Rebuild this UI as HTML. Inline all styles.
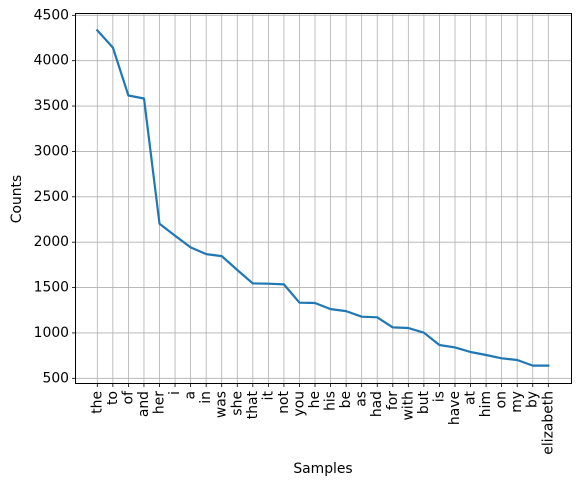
<!DOCTYPE html>
<html><head><meta charset="utf-8"><style>
body{margin:0;background:#fff}
svg{display:block;font-family:"DejaVu Sans","Liberation Sans",sans-serif}
</style></head><body>
<svg id="chart" width="580" height="486" viewBox="0 0 580 486" xmlns="http://www.w3.org/2000/svg">
<g id="grid"></g>
<g id="xt"></g>
<g id="yt"></g>
<path id="line" fill="none" stroke="#1f77b4" stroke-width="2.2" stroke-linejoin="round" stroke-linecap="square"/>
<rect x="75.5" y="13.5" width="496" height="370" fill="none" stroke="#000" stroke-width="1"/>
<text x="323" y="473" font-size="13.9" text-anchor="middle">Samples</text>
<text transform="translate(21,199) rotate(-90)" font-size="13.9" text-anchor="middle">Counts</text>
</svg>
<script>
const categories=["the","to","of","and","her","i","a","in","was","she","that","it","not","you","he","his","be","as","had","for","with","but","is","have","at","him","on","my","by","elizabeth"];
const counts=[4335,4144,3616,3583,2203,2071,1942,1869,1847,1693,1546,1542,1535,1333,1330,1263,1241,1179,1172,1061,1054,1003,867,841,790,757,720,702,640,640];
const yTicks=[500,1000,1500,2000,2500,3000,3500,4000,4500];
const NS="http://www.w3.org/2000/svg";
const x0=97.3,x1=548.3;
function xs(i){return x0+(x1-x0)*i/(categories.length-1);}
function ys(v){return 378.3-(v-500)*(378.3-15.3)/4000;}
const grid=document.getElementById('grid'),xt=document.getElementById('xt'),yt=document.getElementById('yt');
function mk(t,a,p){const e=document.createElementNS(NS,t);for(const k in a)e.setAttribute(k,a[k]);p.appendChild(e);return e;}
categories.forEach((c,i)=>{
  const x=xs(i);
  const g=mk('line',{x1:x,x2:x,y1:13.5,y2:383.5,stroke:'#b0b0b0','stroke-width':0.8},grid);
  
  
  const t=mk('line',{x1:x,x2:x,y1:383.5,y2:387,stroke:'#000','stroke-width':0.8},xt);
  
  
  const l=mk('text',{transform:`translate(${x},391) rotate(-90)`,'font-size':13.9,'text-anchor':'end','dominant-baseline':'central'},xt);
  l.textContent=c;
  
  
});
yTicks.forEach(v=>{
  const y=ys(v);
  const g=mk('line',{x1:75.5,x2:571.5,y1:y,y2:y,stroke:'#b0b0b0','stroke-width':0.8},grid);
  
  
  const t=mk('line',{x1:72,x2:75.5,y1:y,y2:y,stroke:'#000','stroke-width':0.8},yt);
  
  
  const l=mk('text',{x:69,y:y,'font-size':13.9,'text-anchor':'end','dominant-baseline':'central'},yt);
  l.textContent=v;
  
  
});
document.getElementById('line').setAttribute('d',counts.map((v,i)=>(i?'L':'M')+xs(i).toFixed(1)+','+ys(v).toFixed(1)).join(''));
</script>
</body></html>
